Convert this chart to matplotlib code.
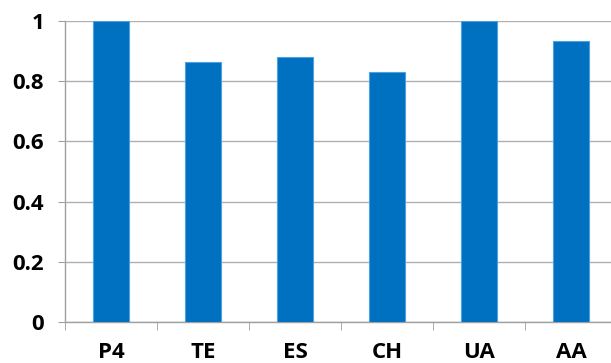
import matplotlib.pyplot as plt
import numpy as np

categories = ["P4", "TE", "ES", "CH", "UA", "AA"]
values = [1.0, 0.865, 0.881, 0.831, 1.0, 0.933]
y_ticks = [0, 0.2, 0.4, 0.6, 0.8, 1]
y_labels = ["0", "0.2", "0.4", "0.6", "0.8", "1"]

plt.rcParams['font.family'] = ['Open Sans', 'DejaVu Sans']

fig = plt.figure(figsize=(6.11, 3.63), dpi=100, facecolor="w")
ax = fig.add_axes([65 / 611, 1 - 322 / 363, 552 / 611, 301 / 363])

x = np.arange(len(categories))
ax.bar(x, values, width=0.4, color="#0070C0", edgecolor="#4aa3e0", linewidth=0.8, zorder=3)

ax.set_xlim(-0.5, len(categories) - 0.5)
ax.set_ylim(0, 1)

ax.set_yticks(y_ticks)
ax.set_yticklabels(y_labels, fontsize=16, fontweight="bold")
ax.set_xticks(x)
ax.set_xticklabels(categories, fontsize=16, fontweight="bold")
ax.set_xticks(np.arange(-0.5, len(categories), 1), minor=True)

ax.tick_params(axis="y", length=5, color="#a0a0a0", pad=10)
ax.tick_params(axis="x", which="major", length=0, pad=14.5)
ax.tick_params(axis="x", which="minor", length=5.5, color="#a0a0a0")

ax.grid(True, axis="y", color="#b0b0b0", lw=1, zorder=0)
for side in ["top", "right"]:
    ax.spines[side].set_visible(False)
for side in ["left", "bottom"]:
    ax.spines[side].set_color("#a0a0a0")
    ax.spines[side].set_linewidth(1)
ax.spines["left"].set_zorder(1)

fig.savefig("out.png", dpi=100)
